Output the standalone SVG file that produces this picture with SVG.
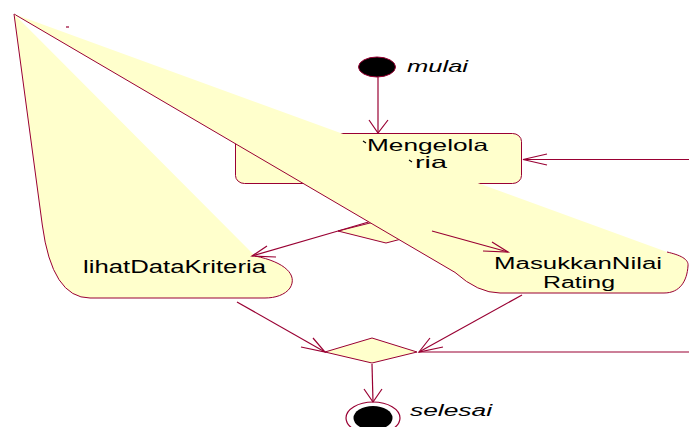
<svg xmlns="http://www.w3.org/2000/svg" width="689" height="427" viewBox="0 0 689 427">
<style>
.fill{fill:#FFFFCC;stroke:none}
.edge{fill:none;stroke:#990033;stroke-width:1}
.node{fill:#FFFFCC;stroke:#990033;stroke-width:1}
.ln{fill:none;stroke:#990033;stroke-width:1.2}
.lbl{font-family:"Liberation Sans",Arial,sans-serif;fill:#000}
.it{font-style:italic}
</style>
<rect width="689" height="427" fill="#FFFFFF"/>
<g id="kelolaKriteria">
<rect class="node" x="235.5" y="133.5" width="286" height="50" rx="9" ry="8"/>
</g>
<g id="decisionTop">
<polygon class="node" points="338,231 386,219 432,231 386,243"/>
</g>
<g id="masukkanNilaiRating">
<path class="fill" d="M14 14 L667 252 C680 255 689 259 688 266 C687 281 680 293 664 293 L500 293 Q478 293 455 272.4 Z"/>
<path class="edge" d="M667 252 C680 255 689 259 688 266 C687 281 680 293 664 293 L500 293 Q478 293 455 272.4 L14 14"/>
<text class="lbl" x="494" y="269" font-size="16" textLength="168" lengthAdjust="spacingAndGlyphs">MasukkanNilai</text>
<text class="lbl" x="543" y="288" font-size="16" textLength="72" lengthAdjust="spacingAndGlyphs">Rating</text>
</g>
<g id="lihatDataKriteria">
<path class="fill" d="M14 14 L255 256 C285 262 298 275 290 288 C285 295 275 298 265 298 L90 298 Q52 298 42.3 225 Z"/>
<path class="edge" d="M255 256 C285 262 298 275 290 288 C285 295 275 298 265 298 L90 298 Q52 298 42.3 225 L14 14"/>
<text class="lbl" x="83" y="273" font-size="17.5" textLength="183" lengthAdjust="spacingAndGlyphs">lihatDataKriteria</text>
</g>
<g id="kelolaText">
<text class="lbl" x="367" y="151" font-size="16.5" textLength="121" lengthAdjust="spacingAndGlyphs">Mengelola</text>
<text class="lbl" x="415" y="168" font-size="16.5" textLength="32" lengthAdjust="spacingAndGlyphs">ria</text>
<path d="M363 141 L366 143 M409 160 L412 162" stroke="#000" stroke-width="1.2" fill="none"/>
</g>
<g id="decisionBottom">
<polygon class="node" points="325,352 372,338 417,352 372,363"/>
</g>
<g id="mulai">
<ellipse cx="377" cy="67" rx="18.5" ry="10" fill="#000" stroke="#990033" stroke-width="1"/>
<text class="lbl it" x="407" y="72" font-size="17" textLength="61" lengthAdjust="spacingAndGlyphs">mulai</text>
</g>
<g id="selesai">
<ellipse cx="373" cy="418" rx="27" ry="16" fill="#FFFFFF" stroke="#990033" stroke-width="1.2"/>
<ellipse cx="373" cy="418" rx="19.5" ry="12" fill="#000"/>
<text class="lbl it" x="410" y="416" font-size="16" textLength="82" lengthAdjust="spacingAndGlyphs">selesai</text>
</g>
<g id="connectors">
<line class="ln" x1="378" y1="77" x2="378" y2="133"/>
<polyline class="ln" points="369,120 378,133 388,120"/>
<line class="ln" x1="689" y1="159.5" x2="523" y2="159.5"/>
<polyline class="ln" points="547,154 523,159.5 547,165"/>
<line class="ln" x1="338" y1="231" x2="252" y2="256"/>
<polyline class="ln" points="267,246 252,256 276,257"/>
<line class="ln" x1="338" y1="231" x2="368.5" y2="222"/>
<line class="ln" x1="432" y1="231" x2="508" y2="252"/>
<polyline class="ln" points="492,242 508,252 483,251"/>
<line class="ln" x1="237" y1="302" x2="325" y2="352"/>
<polyline class="ln" points="313,338 325,352 301,347"/>
<line class="ln" x1="522" y1="295" x2="419" y2="352"/>
<polyline class="ln" points="430,338 419,352 443,347"/>
<line class="ln" x1="689" y1="352" x2="419" y2="352"/>
<line class="ln" x1="372" y1="364" x2="373" y2="402"/>
<polyline class="ln" points="364,389 373,402 382,389"/>
<line class="ln" x1="66" y1="27" x2="69" y2="27"/>
</g>
</svg>
